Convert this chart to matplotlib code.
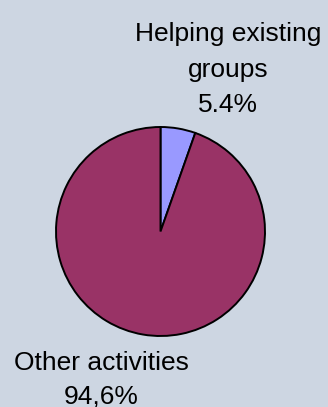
import matplotlib
matplotlib.use('Agg')
import matplotlib.pyplot as plt

plt.rcParams['font.family'] = ['Liberation Sans', 'DejaVu Sans']

BG     = '#cdd6e2'
LILAC  = '#9999ff'
PLUM   = '#993366'

labels   = ['Helping existing\ngroups', 'Other activities']
shares   = [5.4, 94.6]
decimals = ['.', ',']          # separators as printed on the slice labels

W, H = 328, 407
fig = plt.figure(figsize=(W / 100, H / 100), dpi=100)
fig.patch.set_facecolor(BG)

# pie disc: centre (160, 231) px, radius ~104.5 px
cx, cy, r = 160.5, 231.5, 104.5
ax = fig.add_axes([(cx - r) / W, (H - cy - r) / H, 2 * r / W, 2 * r / H])
ax.pie(shares, colors=[LILAC, PLUM], startangle=90, counterclock=False,
       radius=1.0, wedgeprops=dict(edgecolor='black', linewidth=1.4))
ax.set_xlim(-1, 1)
ax.set_ylim(-1, 1)
ax.axis('off')

def pct(v, sep):
    return f'{v:.1f}%'.replace('.', sep)

def put_lines(x, first_baseline, pitch, text):
    # one fig.text per line so every baseline sits where it should
    for i, line in enumerate(text.split('\n')):
        y = first_baseline + i * pitch
        fig.text(x / W, 1 - y / H, line, ha='center', va='baseline',
                 fontsize=19, color='black')

put_lines(228, 41.5, 35, f'{labels[0]}\n{pct(shares[0], decimals[0])}')
put_lines(101.5, 369.5, 34, f'{labels[1]}\n{pct(shares[1], decimals[1])}')

fig.savefig('out.png', dpi=100, facecolor=BG)
